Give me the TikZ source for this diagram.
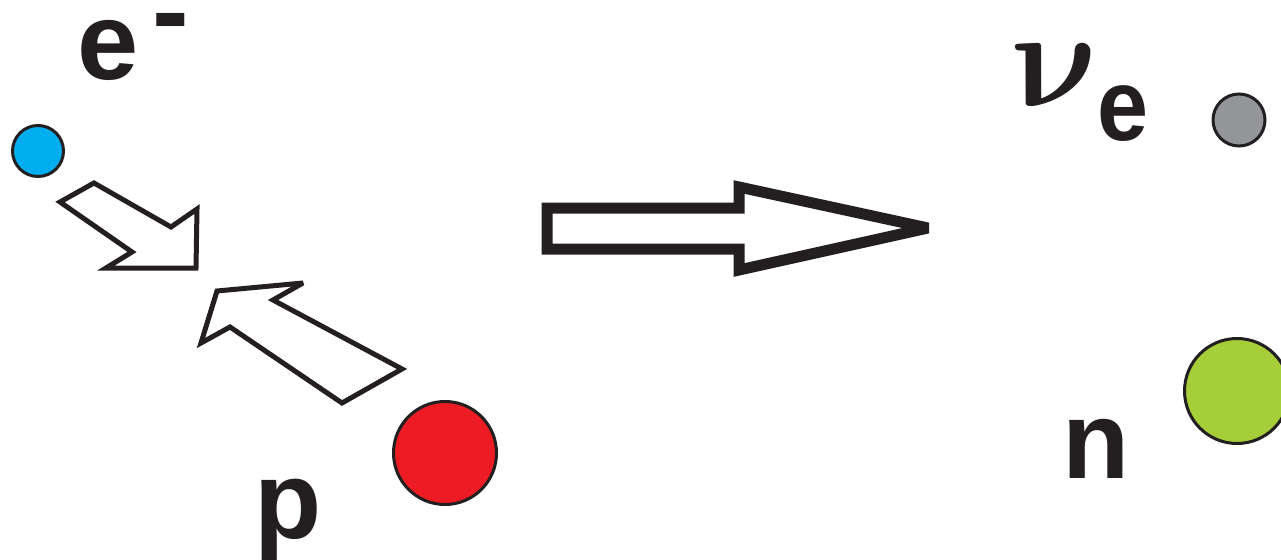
\documentclass[tikz,border=0pt]{standalone}
\usepackage{fontspec}
\usepackage{graphicx}
\setmainfont{Liberation Sans}
\definecolor{inkline}{HTML}{231F20}
\definecolor{ecyan}{HTML}{00AEEF}
\definecolor{pred}{HTML}{ED1C24}
\definecolor{nugrey}{HTML}{939598}
\definecolor{ngreen}{HTML}{A6CE39}
\begin{document}
\begin{tikzpicture}[x=1pt,y=-1pt,
  particle/.style={circle,draw=inkline,line width=3pt,inner sep=0pt},
  biglabel/.style={inner sep=0pt,text=inkline,font=\fontsize{110}{110}\selectfont\bfseries},
  smallarrow/.style={draw=inkline,line width=5pt,fill=white,miter limit=4},
  bigarrow/.style={draw=inkline,line width=11pt,fill=white,miter limit=2}]
\useasboundingbox (0,0) rectangle (1281,559);
\clip (0,0) rectangle (1281,559);
% particles
\node[particle,fill=ecyan,minimum size=51pt] (electron) at (38,151) {};
\node[particle,fill=pred,minimum size=103pt] (proton) at (445,453) {};
\node[particle,fill=nugrey,minimum size=52pt] (neutrino) at (1239,120) {};
\node[particle,fill=ngreen,minimum size=105pt] (neutron) at (1237,391) {};
% labels
\node[biglabel] (elabel) at (108.5,50) {e};
\node[biglabel,anchor=north] (eminus) at (171,13) {-};
\node[biglabel,anchor=base] (plabel) at (288.5,538) {p};
\node[biglabel,anchor=base] (nlabel) at (1096.5,478) {n};
\node[inner sep=0pt,text=inkline,xslant=-0.25,transform shape] (nulabel) at (1058,75) {\scalebox{14}{\boldmath$\nu$}};
\node[biglabel,font=\fontsize{102}{102}\selectfont\bfseries,xscale=0.9,transform shape] (nusub) at (1123,113.5) {e};
% small arrows
\draw[smallarrow] (60,202) -- (94,183) -- (171,227) -- (197,209) -- (196,268) -- (106,268) -- (132,252) -- cycle;
\draw[smallarrow] (217,291) -- (303,283) -- (273,300) -- (402,369) -- (342,403) -- (230,327) -- (201,343) -- cycle;
% reaction arrow
\draw[bigarrow] (547,208) -- (739,208) -- (739,187) -- (928,228) -- (739,270) -- (739,249) -- (547,249) -- cycle;
\end{tikzpicture}
\end{document}
